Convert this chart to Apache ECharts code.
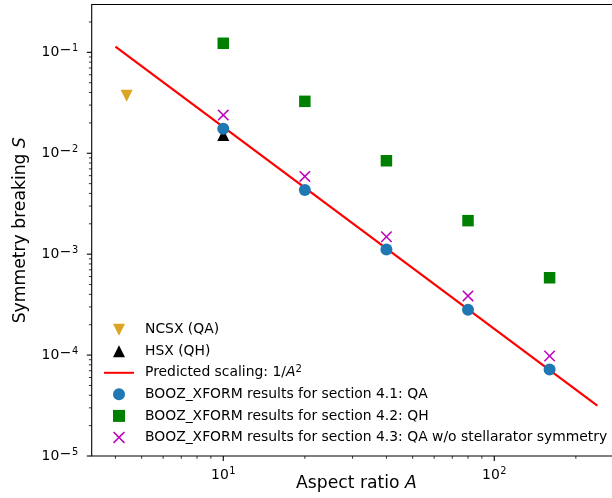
<!DOCTYPE html>
<html>
<head>
<meta charset="utf-8">
<script src="https://cdn.jsdelivr.net/npm/echarts@6/dist/echarts.min.js"></script>
<style>
  html, body { margin: 0; padding: 0; background: #fff; }
  #chart { width: 612px; height: 498px; }
</style>
</head>
<body>
<div id="chart"></div>
<script>
// Aspect ratios of the scanned configurations
const aspectRatios = [10, 20, 40, 80, 160];

// Symmetry breaking S from BOOZ_XFORM
const qaValues = [0.0175, 0.00433, 0.00111, 0.000282, 0.0000721];
const qhValues = [0.123, 0.0327, 0.00843, 0.00215, 0.000584];
const qaNoStellSymValues = [0.0239, 0.0059, 0.00149, 0.000386, 0.000098];

// Existing experiments
const ncsxPoint = [4.4, 0.0371];
const hsxPoint = [10, 0.0152];

// Predicted 1/A^2 scaling line, end points
const scalingA = [4, 240];
const scalingS = [0.1137, 0.0000316];

// Axis ranges and tick labels
const xRange = [3.27, 294];
const yRange = [1e-5, 0.298];
const xMajorTicks = [10, 100];
const xMajorExp = ['1', '2'];
const yMajorTicks = [1e-5, 1e-4, 1e-3, 1e-2, 1e-1];
const yMajorExp = ['5', '4', '3', '2', '1'];

const FONT = 'DejaVu Sans';
const FS = 13.9;       // tick labels and legend
const TITLE_FS = 17.2; // axis titles

// minor ticks at 2..9 times each decade, inside the axis range
function minorTicks(range) {
  const out = [];
  for (let e = -6; e <= 3; e++) {
    for (let m = 2; m <= 9; m++) {
      const v = m * Math.pow(10, e);
      if (v > range[0] && v < range[1]) out.push(v);
    }
  }
  return out;
}

const xTickData = xMajorTicks.map((v, i) => [v, yRange[0], 1, i])
  .concat(minorTicks(xRange).map(v => [v, yRange[0], 0, -1]));
const yTickData = yMajorTicks.map((v, i) => [xRange[0], v, 1, i])
  .concat(minorTicks(yRange).map(v => [xRange[0], v, 0, -1]));

// power-of-ten tick label: base, superscript minus, superscript digit
const labelRich = {
  b: { fontFamily: FONT, fontSize: FS, lineHeight: 18, fill: '#000' },
  m: { fontFamily: FONT, fontSize: 14, lineHeight: 10, verticalAlign: 'top', fill: '#000', padding: [0, 0, 0, 0.5] },
  s: { fontFamily: FONT, fontSize: 9.8, lineHeight: 11.6, verticalAlign: 'top', fill: '#000', padding: [0, 0, 0, 0.5] }
};

const crossPath = 'path://M0,9.2 L9.2,0 L50,40.8 L90.8,0 L100,9.2 L59.2,50 L100,90.8 L90.8,100 L50,59.2 L9.2,100 L0,90.8 L40.8,50 Z';
const downTriangle = 'path://M0,0 L100,0 L50,100 Z';
const upTriangle = 'path://M50,0 L100,100 L0,100 Z';
const square = 'path://M0,0 L100,0 L100,100 L0,100 Z';

const names = {
  ncsx: 'NCSX (QA)',
  hsx: 'HSX (QH)',
  pred: 'Predicted scaling: 1/A^2',
  qa: 'BOOZ_XFORM results for section 4.1: QA',
  qh: 'BOOZ_XFORM results for section 4.2: QH',
  qans: 'BOOZ_XFORM results for section 4.3: QA w/o stellarator symmetry'
};

const titleRich = {
  n: { fontFamily: FONT, fontSize: TITLE_FS, color: '#000' },
  i: { fontFamily: FONT, fontSize: TITLE_FS, fontStyle: 'italic', color: '#000' }
};

const chart = echarts.init(document.getElementById('chart'), null, { renderer: 'canvas' });

const option = {
  animation: false,
  backgroundColor: '#fff',
  textStyle: { fontFamily: FONT },
  grid: {
    left: 91.7, top: 4.5, width: 529.5, height: 451.5,
    show: true, borderColor: '#000', borderWidth: 1.1,
    containLabel: false, outerBoundsMode: 'none'
  },
  xAxis: {
    type: 'log', logBase: 10, min: xRange[0], max: xRange[1],
    axisLine: { show: false }, axisTick: { show: false },
    axisLabel: { show: false }, splitLine: { show: false },
    name: '{n|Aspect ratio }{i|A}',
    nameLocation: 'middle', nameGap: 19.5,
    nameTextStyle: { fontFamily: FONT, fontSize: TITLE_FS, color: '#000', rich: titleRich }
  },
  yAxis: {
    type: 'log', logBase: 10, min: yRange[0], max: yRange[1],
    axisLine: { show: false }, axisTick: { show: false },
    axisLabel: { show: false }, splitLine: { show: false },
    name: '{n|Symmetry breaking }{i|S}',
    nameLocation: 'middle', nameGap: 63, nameRotate: 90,
    nameTextStyle: { fontFamily: FONT, fontSize: TITLE_FS, color: '#000', rich: titleRich }
  },
  legend: {
    orient: 'vertical', left: 103, top: 321.7, padding: 0,
    itemWidth: 30, itemHeight: 12, itemGap: 5.55,
    data: [names.ncsx, names.hsx, names.pred, names.qa, names.qh, names.qans],
    textStyle: {
      fontFamily: FONT, fontSize: FS, color: '#000', lineHeight: 16,
      padding: [0, 0, 0, 6],
      rich: {
        n: { fontFamily: FONT, fontSize: FS, color: '#000', lineHeight: 16 },
        i: { fontFamily: FONT, fontSize: FS, fontStyle: 'italic', color: '#000', lineHeight: 16 },
        s: { fontFamily: FONT, fontSize: 10, color: '#000', lineHeight: 11, verticalAlign: 'top' }
      }
    },
    formatter: function (name) {
      if (name === names.pred) return '{n|Predicted scaling: 1/}{i|A}{s|2}';
      return name;
    }
  },
  series: [
    {
      name: names.ncsx, type: 'scatter', symbol: downTriangle, symbolSize: 12,
      itemStyle: { color: '#daa520', opacity: 1 },
      data: [ncsxPoint], z: 3
    },
    {
      name: names.hsx, type: 'scatter', symbol: upTriangle, symbolSize: 12,
      itemStyle: { color: '#000', opacity: 1 },
      data: [hsxPoint], z: 3
    },
    {
      name: names.pred, type: 'line', symbol: 'none', showSymbol: false,
      lineStyle: { color: '#ff0000', width: 2.2 },
      itemStyle: { color: 'rgba(255,0,0,0)', opacity: 0 },
      data: scalingA.map((a, i) => [a, scalingS[i]]), z: 3
    },
    {
      name: names.qa, type: 'scatter', symbol: 'circle', symbolSize: 12,
      itemStyle: { color: '#1f77b4', opacity: 1 },
      data: aspectRatios.map((a, i) => [a, qaValues[i]]), z: 3
    },
    {
      name: names.qh, type: 'scatter', symbol: square, symbolSize: 11.5,
      itemStyle: { color: '#008000', opacity: 1 },
      data: aspectRatios.map((a, i) => [a, qhValues[i]]), z: 3
    },
    {
      name: names.qans, type: 'scatter', symbol: crossPath, symbolSize: 11.5,
      itemStyle: { color: '#bf00bf', opacity: 1 },
      data: aspectRatios.map((a, i) => [a, qaNoStellSymValues[i]]), z: 3
    },
    {
      // bottom axis ticks and labels
      type: 'custom', silent: true, clip: false, z: 5,
      data: xTickData,
      renderItem: function (params, api) {
        const p = api.coord([api.value(0), api.value(1)]);
        const major = api.value(2) === 1;
        const children = [{
          type: 'line',
          shape: { x1: p[0], y1: p[1], x2: p[0], y2: p[1] + (major ? 4.9 : 2.8) },
          style: { stroke: '#000', lineWidth: major ? 1.1 : 0.8 }
        }];
        if (major) {
          const idx = api.value(3);
          children.push({
            type: 'text', x: p[0], y: p[1] + 10,
            style: {
              text: '{b|10}{s|' + xMajorExp[idx] + '}',
              rich: labelRich, align: 'center', verticalAlign: 'top', fill: '#000'
            }
          });
        }
        return { type: 'group', children: children };
      }
    },
    {
      // left axis ticks and labels
      type: 'custom', silent: true, clip: false, z: 5,
      data: yTickData,
      renderItem: function (params, api) {
        const p = api.coord([api.value(0), api.value(1)]);
        const major = api.value(2) === 1;
        const children = [{
          type: 'line',
          shape: { x1: p[0], y1: p[1], x2: p[0] - (major ? 4.9 : 2.8), y2: p[1] },
          style: { stroke: '#000', lineWidth: major ? 1.1 : 0.8 }
        }];
        if (major) {
          const idx = api.value(3);
          children.push({
            type: 'text', x: p[0] - 13.5, y: p[1] + 0.3,
            style: {
              text: '{b|10}{m|\u2212}{s|' + yMajorExp[idx] + '}',
              rich: labelRich, align: 'right', verticalAlign: 'middle', fill: '#000'
            }
          });
        }
        return { type: 'group', children: children };
      }
    }
  ]
};

chart.setOption(option);
</script>
</body>
</html>
